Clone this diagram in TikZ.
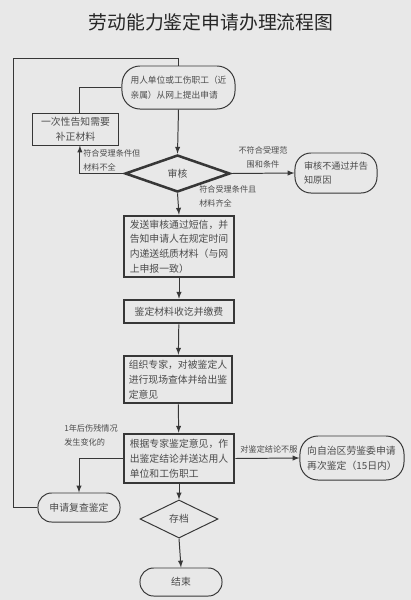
\documentclass[tikz,border=0pt]{standalone}
\usepackage{fontspec}
\usepackage{tikz}
\usetikzlibrary{positioning, calc, shapes, arrows}
\newfontfamily\cjk{Noto Sans CJK SC}
\definecolor{bggray}{RGB}{232,232,232}
\definecolor{linegray}{RGB}{55,55,55}
\definecolor{textgray}{RGB}{75,75,75}
\tikzset{
	base/.style = {draw=linegray, text=textgray, font=\cjk\fontsize{7}{10.5}\selectfont, inner sep=0pt, align=left},
	thinbox/.style = {base, rectangle, line width=0.7pt},
	thickbox/.style = {base, rectangle, line width=1.8pt},
	roundbox/.style = {base, rectangle, rounded corners=0.34cm, line width=0.7pt},
	decision/.style = {base, diamond, aspect=2.8, align=center},
	line/.style = {draw=linegray, line width=0.7pt},
	arrow/.style = {line, -latex},
	note/.style = {text=textgray, font=\cjk\fontsize{5.8}{10}\selectfont, inner sep=0pt, align=left}
}

\begin{document}
\begin{tikzpicture}[x=0.025cm, y=-0.025cm]
	\fill[bggray] (0,0) rectangle (411,600);
	\useasboundingbox (0,0) rectangle (411,600);

	\node[font=\cjk\fontsize{13.4}{16}\selectfont, text=black!85] (title) at (211,22) {劳动能力鉴定申请办理流程图};

	% main column
	\node[roundbox, rounded corners=0.45cm, minimum width=2.825cm, minimum height=1.075cm, font=\cjk\fontsize{6.2}{10.5}\selectfont] (apply) at (178.5,87.5) {用人单位或工伤职工（近\\亲属）从网上提出申请};
	\node[decision, line width=1.8pt, minimum width=2.625cm, minimum height=0.925cm] (check) at (177.5,173.5) {审核};
	\node[thickbox, minimum width=2.75cm, minimum height=1.525cm] (notify) at (179,246.5) {发送审核通过短信，并\\告知申请人在规定时间\\内递送纸质材料（与网\\上申报一致）};
	\node[thickbox, minimum width=2.75cm, minimum height=0.575cm] (fee) at (179,311.5) {鉴定材料收讫并缴费};
	\node[thickbox, minimum width=2.7cm, minimum height=1.175cm] (expert) at (178,379.5) {组织专家，对被鉴定人\\进行现场查体并给出鉴\\定意见};
	\node[thickbox, minimum width=2.75cm, minimum height=1.225cm] (result) at (179,458.5) {根据专家鉴定意见，作\\出鉴定结论并送达用人\\单位和工伤职工};
	\node[decision, line width=0.7pt, minimum width=1.95cm, minimum height=0.95cm] (archive) at (179,519) {存档};
	\node[roundbox, minimum width=2.05cm, minimum height=0.7cm] (finish) at (181,582) {结束};

	% side nodes
	\node[thinbox, minimum width=2.125cm, minimum height=0.8cm, align=center] (supply) at (75.5,129) {一次性告知需要\\补正材料};
	\node[roundbox, rounded corners=0.4cm, minimum width=2.05cm, minimum height=1cm, font=\cjk\fontsize{6.5}{10.5}\selectfont] (reject) at (336,173) {审核不通过并告\\知原因};
	\node[roundbox, rounded corners=0.45cm, minimum width=2.6cm, minimum height=1.1cm] (again) at (352,458) {向自治区劳鉴委申请\\再次鉴定（15日内）};
	\node[roundbox, minimum width=2.05cm, minimum height=0.725cm] (review) at (79,507.5) {申请复查鉴定};

	\coordinate (loop) at (13,58);
	\coordinate (supplyin) at ($(supply.north)+(0.11cm,0)$);
	\coordinate (supplyout) at ($(supply.south)+(0.11cm,0)$);

	% connectors
	\draw[line] (review.west) -| (loop) -| (apply.north);
	\draw[line] (apply.west) -| (supplyin);
	\draw[arrow] (check.west) -| (supplyout);
	\draw[arrow] (apply.south) -- (check.north);
	\draw[arrow] (check.east) -- (reject.west);
	\draw[arrow] (check.south) -- (notify.north);
	\draw[arrow] (notify) -- (fee);
	\draw[arrow] (fee) -- (expert);
	\draw[arrow] (expert) -- (result);
	\draw[arrow] (result.east) -- (again.west);
	\draw[arrow] (result.west) -| (review.north);
	\draw[arrow] (result.south) -- (archive.north);
	\draw[arrow] (archive.south) -- (finish.north);

	% labels
	\node[note, anchor=west] (lbl1) at (83,160.5) {符合受理条件但\\材料不全};
	\node[note, align=center] (lbl2) at (263,157) {不符合受理范\\围和条件};
	\node[note, anchor=west] (lbl3) at (199,196) {符合受理条件且\\材料齐全};
	\node[note] (lbl4) at (269,449) {对鉴定结论不服};
	\node[note, anchor=west] (lbl5) at (64,435) {1年后伤残情况\\发生变化的};
\end{tikzpicture}
\end{document}
